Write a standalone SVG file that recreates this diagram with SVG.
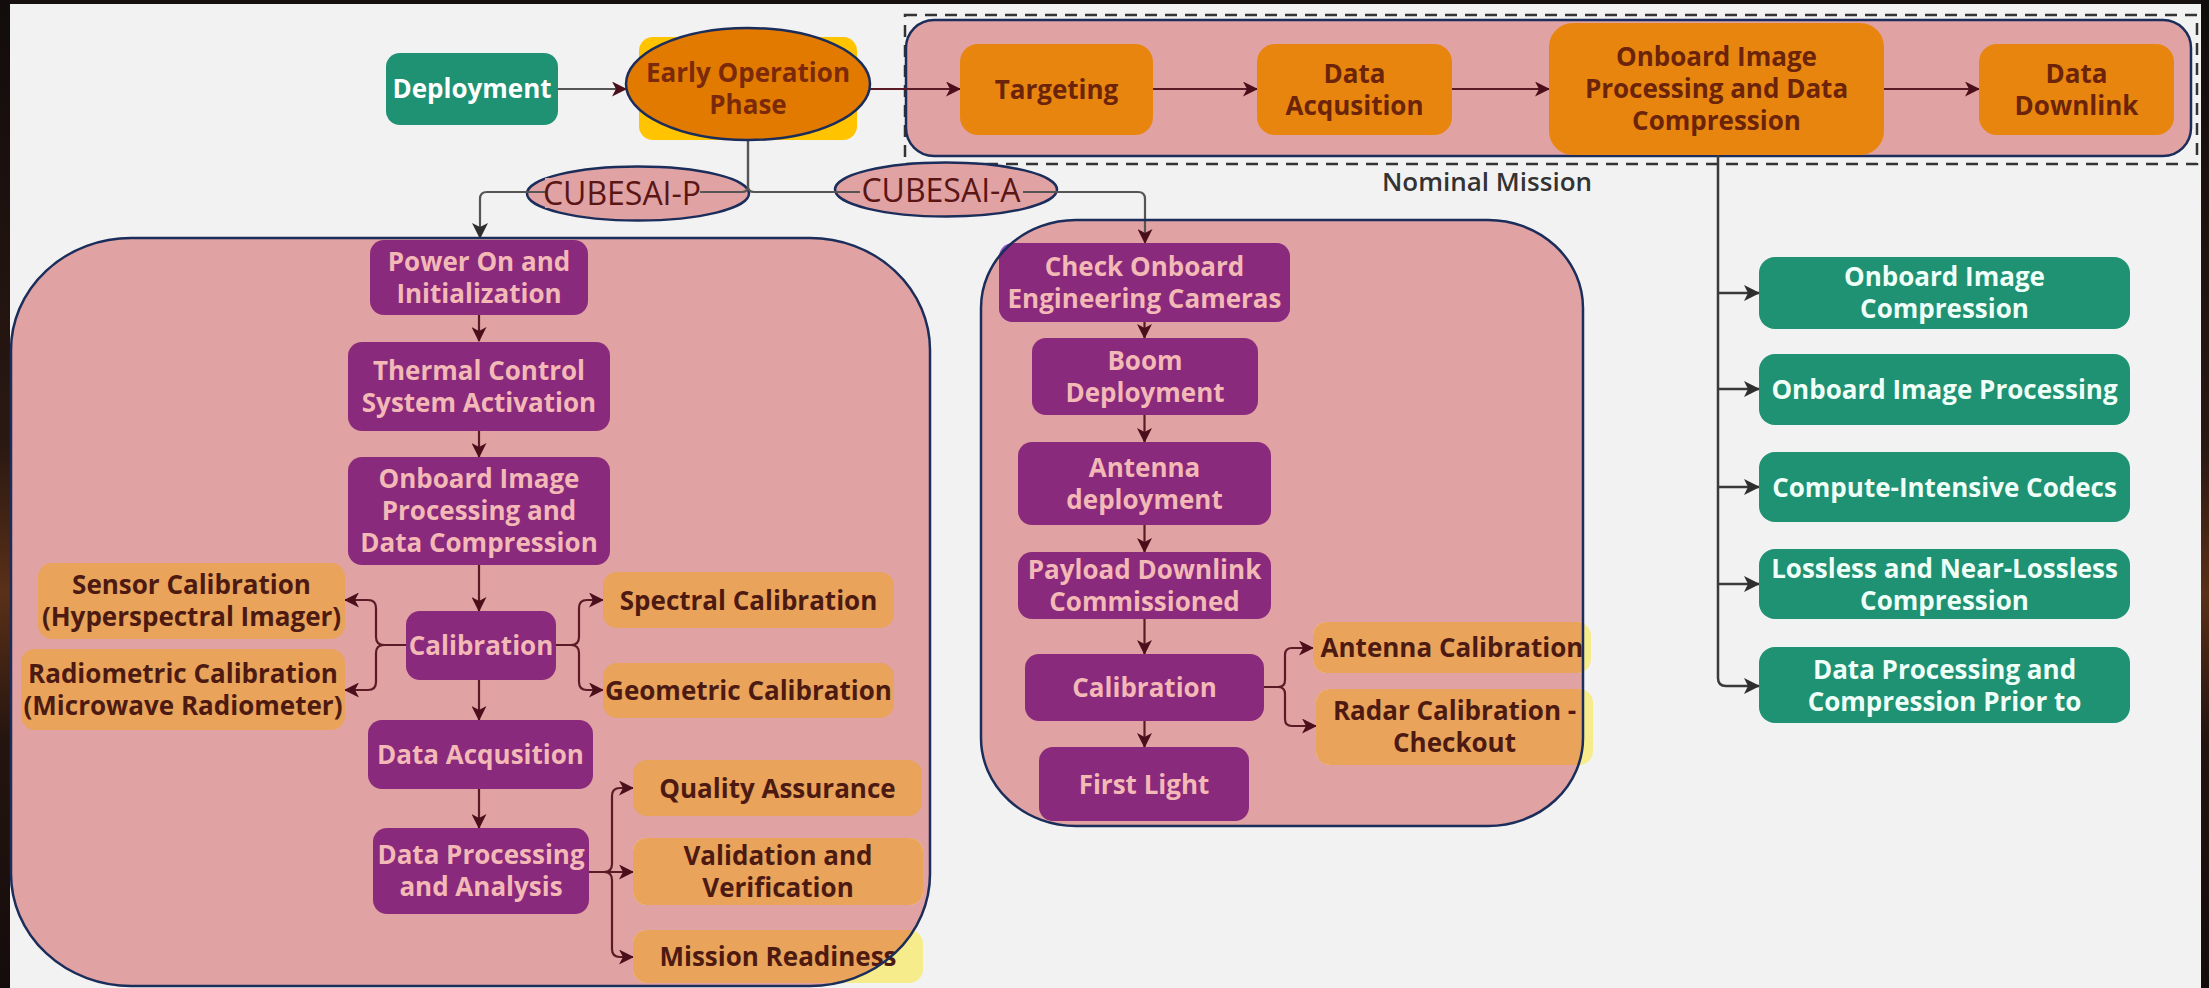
<svg xmlns="http://www.w3.org/2000/svg" width="2209" height="988" viewBox="0 0 2209 988">
<defs>
<style>
.tx{font-family:"Open Sans","Liberation Sans",sans-serif;text-anchor:middle;font-weight:700;font-size:26px}
.pu{fill:#8a2a7d}
.pt{fill:#f3b9b6}
.or{fill:#e9a35a}
.ot{fill:#4d1a12}
.ye{fill:#f6ec8c}
.no{fill:#e8850f}
.nt{fill:#6b2409}
.gr{fill:#1e9273}
.gt{fill:#f0fff8}
.ct{fill:#e1a2a3}
.cs{fill:none;stroke:#1b2d5a;stroke-width:2.5}
.cm{fill:none;stroke:#5a1a26;stroke-width:2.2}
.cg{fill:none;stroke:#555;stroke-width:2.2}
.cd{fill:none;stroke:#3a3a3a;stroke-width:2.5}
.lb{font-family:"Open Sans","Liberation Sans",sans-serif;text-anchor:middle;font-size:32px;font-weight:400;fill:#5a1515}
</style>
<marker id="am" markerUnits="userSpaceOnUse" markerWidth="15" markerHeight="15" refX="14" refY="7.5" orient="auto"><path d="M0,0 L15,7.5 L0,15 L4,7.5 Z" fill="#4a0f1a"/></marker>
<marker id="ad" markerUnits="userSpaceOnUse" markerWidth="16" markerHeight="16" refX="15" refY="8" orient="auto"><path d="M0,0 L16,8 L0,16 L4,8 Z" fill="#2e2e2e"/></marker>
<clipPath id="clipL"><rect x="11" y="238" width="919" height="748" rx="120" ry="112"/></clipPath>
<clipPath id="clipR"><rect x="981" y="220" width="602" height="606" rx="95" ry="88"/></clipPath>
<linearGradient id="edge" x1="0" y1="0" x2="0" y2="1">
<stop offset="0" stop-color="#120c0c"/><stop offset="0.45" stop-color="#2a1812"/><stop offset="0.6" stop-color="#5a3018"/><stop offset="0.75" stop-color="#24140f"/><stop offset="1" stop-color="#140c0c"/>
</linearGradient>
</defs>
<rect x="0" y="0" width="2209" height="988" fill="#f2f2f2"/>
<rect x="0" y="0" width="2209" height="4" fill="#15100f"/>
<rect x="0" y="0" width="10" height="988" fill="url(#edge)"/>
<rect x="2201" y="0" width="8" height="988" fill="url(#edge)"/>

<!-- containers -->
<g id="nominal-mission">
<rect x="905" y="15" width="1292" height="149" fill="none" stroke="#333" stroke-width="2.5" stroke-dasharray="12 8"/>
<rect x="906" y="20" width="1285" height="136" rx="28" class="ct" stroke="#1b2d5a" stroke-width="2.5"/>
<text x="1487" y="191" font-family="Open Sans, Liberation Sans, sans-serif" font-size="26" font-weight="600" fill="#333" text-anchor="middle">Nominal Mission</text>
</g>
<g id="cubesat-p-container"><rect x="11" y="238" width="919" height="748" rx="120" ry="112" class="ct"/></g>
<g id="cubesat-a-container"><rect x="981" y="220" width="602" height="606" rx="95" ry="88" class="ct"/></g>

<!-- label ellipses -->
<g id="label-p-shape"><ellipse cx="638" cy="193.5" rx="111" ry="27" class="ct" stroke="#1b2d5a" stroke-width="2.5"/></g>
<g id="label-a-shape"><ellipse cx="946" cy="189.5" rx="111" ry="27" class="ct" stroke="#1b2d5a" stroke-width="2.5"/></g>

<!-- connectors -->
<g id="connectors">
<path class="cg" d="M558,89 H626" marker-end="url(#am)"/>
<path class="cm" d="M870,89 H960" marker-end="url(#am)"/>
<path class="cm" d="M1153,89 H1257" marker-end="url(#am)"/>
<path class="cm" d="M1452,89 H1549" marker-end="url(#am)"/>
<path class="cm" d="M1884,89 H1979" marker-end="url(#am)"/>
<path class="cg" d="M748,140 V186 Q748,192 742,192 H487 Q480,192 480,199 V238" marker-end="url(#ad)"/>
<path class="cg" d="M748,140 V186 Q748,192 754,192 H1138 Q1145,192 1145,199 V243" marker-end="url(#am)"/>
<path class="cd" d="M1718,155 V678 Q1718,686 1726,686 H1759" marker-end="url(#ad)"/>
<path class="cd" d="M1718,293 H1759" marker-end="url(#ad)"/>
<path class="cd" d="M1718,389 H1759" marker-end="url(#ad)"/>
<path class="cd" d="M1718,487 H1759" marker-end="url(#ad)"/>
<path class="cd" d="M1718,584 H1759" marker-end="url(#ad)"/>
<path class="cm" d="M479,315 V341" marker-end="url(#am)"/>
<path class="cm" d="M479,431 V457" marker-end="url(#am)"/>
<path class="cm" d="M479,565 V611" marker-end="url(#am)"/>
<path class="cm" d="M479,680 V720" marker-end="url(#am)"/>
<path class="cm" d="M479,789 V828" marker-end="url(#am)"/>
<path class="cm" d="M406,645 H384 Q376,645 376,637 V608 Q376,600 368,600 H345" marker-end="url(#am)"/>
<path class="cm" d="M384,645 Q376,645 376,653 V682 Q376,690 368,690 H345" marker-end="url(#am)"/>
<path class="cm" d="M556,645 H571 Q579,645 579,637 V608 Q579,600 587,600 H603" marker-end="url(#am)"/>
<path class="cm" d="M571,645 Q579,645 579,653 V682 Q579,690 587,690 H603" marker-end="url(#am)"/>
<path class="cm" d="M589,872 H604 Q612,872 612,864 V796 Q612,788 620,788 H633" marker-end="url(#am)"/>
<path class="cm" d="M589,872 H633" marker-end="url(#am)"/>
<path class="cm" d="M604,872 Q612,872 612,880 V949 Q612,957 620,957 H633" marker-end="url(#am)"/>
<path class="cm" d="M1144.5,322 V338" marker-end="url(#am)"/>
<path class="cm" d="M1144.5,415 V442" marker-end="url(#am)"/>
<path class="cm" d="M1144.5,525 V552" marker-end="url(#am)"/>
<path class="cm" d="M1144.5,619 V654" marker-end="url(#am)"/>
<path class="cm" d="M1144.5,721 V747" marker-end="url(#am)"/>
<path class="cm" d="M1264,687 H1278 Q1285,687 1285,680 V655 Q1285,648 1292,648 H1313" marker-end="url(#am)"/>
<path class="cm" d="M1278,687 Q1285,687 1285,694 V719 Q1285,726 1292,726 H1316" marker-end="url(#am)"/>
</g>

<!-- labels text -->
<g id="label-p"><rect x="545" y="178" width="155" height="30" class="ct"/><text class="lb" x="622" y="205">CUBESAI-P</text></g>
<g id="label-a"><rect x="860" y="174" width="163" height="30" class="ct"/><text class="lb" x="941" y="202">CUBESAI-A</text></g>

<!-- top row nodes -->
<g id="deployment"><rect x="386" y="53" width="172" height="72" rx="14" class="gr"/><text class="tx" x="472" y="98" fill="#ffffff">Deployment</text></g>
<g id="early-operation"><rect x="639" y="37" width="218" height="103" rx="14" fill="#ffc300"/><ellipse cx="748" cy="84" rx="122" ry="56" fill="#e27a00" stroke="#1b2d5a" stroke-width="2.5"/><text class="tx" fill="#7a2a0a"><tspan x="748" y="82">Early Operation</tspan><tspan x="748" y="114">Phase</tspan></text></g>
<g id="targeting"><rect x="960" y="44" width="193" height="91" rx="18" class="no"/><text class="tx nt" x="1056.5" y="99">Targeting</text></g>
<g id="data-acq-top"><rect x="1257" y="44" width="195" height="91" rx="18" class="no"/><text class="tx nt"><tspan x="1354.5" y="83">Data</tspan><tspan x="1354.5" y="115">Acqusition</tspan></text></g>
<g id="onboard-top"><rect x="1549" y="23" width="335" height="132" rx="24" class="no"/><text class="tx nt"><tspan x="1716.5" y="66">Onboard Image</tspan><tspan x="1716.5" y="98">Processing and Data</tspan><tspan x="1716.5" y="130">Compression</tspan></text></g>
<g id="data-downlink"><rect x="1979" y="44" width="195" height="91" rx="18" class="no"/><text class="tx nt"><tspan x="2076.5" y="83">Data</tspan><tspan x="2076.5" y="115">Downlink</tspan></text></g>

<!-- CUBESAT-P nodes -->
<g id="power-on"><rect x="370" y="240" width="218" height="75" rx="14" class="pu"/><text class="tx pt"><tspan x="479" y="271">Power On and</tspan><tspan x="479" y="303">Initialization</tspan></text></g>
<g id="thermal"><rect x="348" y="342" width="262" height="89" rx="14" class="pu"/><text class="tx pt"><tspan x="479" y="380">Thermal Control</tspan><tspan x="479" y="412">System Activation</tspan></text></g>
<g id="onboard-p"><rect x="348" y="457" width="262" height="108" rx="14" class="pu"/><text class="tx pt"><tspan x="479" y="488">Onboard Image</tspan><tspan x="479" y="520">Processing and</tspan><tspan x="479" y="552">Data Compression</tspan></text></g>
<g id="calibration-p"><rect x="406" y="611" width="150" height="69" rx="14" class="pu"/><text class="tx pt" x="481" y="655">Calibration</text></g>
<g id="data-acq-p"><rect x="368" y="720" width="225" height="69" rx="14" class="pu"/><text class="tx pt" x="480.5" y="764">Data Acqusition</text></g>
<g id="data-processing"><rect x="373" y="828" width="216" height="86" rx="14" class="pu"/><text class="tx pt"><tspan x="481" y="864">Data Processing</tspan><tspan x="481" y="896">and Analysis</tspan></text></g>
<g id="sensor-cal"><rect x="38" y="563" width="307" height="76" rx="14" class="or"/><text class="tx ot"><tspan x="191.5" y="594">Sensor Calibration</tspan><tspan x="191.5" y="626">(Hyperspectral Imager)</tspan></text></g>
<g id="radiometric-cal"><rect x="21" y="649" width="324" height="81" rx="14" class="or"/><text class="tx ot"><tspan x="183" y="683">Radiometric Calibration</tspan><tspan x="183" y="715">(Microwave Radiometer)</tspan></text></g>
<g id="spectral-cal"><rect x="603" y="572" width="291" height="56" rx="14" class="or"/><text class="tx ot" x="748.5" y="609.5">Spectral Calibration</text></g>
<g id="geometric-cal"><rect x="603" y="663" width="291" height="55" rx="14" class="or"/><text class="tx ot" x="748.5" y="700">Geometric Calibration</text></g>
<g id="quality"><rect x="633" y="760" width="289" height="56" rx="14" class="or"/><text class="tx ot" x="777.5" y="797.5">Quality Assurance</text></g>
<g id="validation"><rect x="633" y="838" width="290" height="67" rx="14" class="ye"/><rect x="633" y="838" width="290" height="67" rx="14" class="or" clip-path="url(#clipL)"/><text class="tx ot"><tspan x="778" y="865">Validation and</tspan><tspan x="778" y="897">Verification</tspan></text></g>
<g id="mission-readiness"><rect x="633" y="930" width="290" height="53" rx="14" class="ye"/><rect x="633" y="930" width="290" height="53" rx="14" class="or" clip-path="url(#clipL)"/><text class="tx ot" x="778" y="966">Mission Readiness</text></g>
<g id="cubesat-p-outline"><rect x="11" y="238" width="919" height="748" rx="120" ry="112" class="cs"/></g>

<!-- CUBESAT-A nodes -->
<g id="check-cameras"><rect x="999" y="243" width="291" height="79" rx="14" fill="#8e4fc6"/><rect x="999" y="243" width="291" height="79" rx="14" class="pu" clip-path="url(#clipR)"/><text class="tx pt"><tspan x="1144.5" y="276">Check Onboard</tspan><tspan x="1144.5" y="308">Engineering Cameras</tspan></text></g>
<g id="boom"><rect x="1032" y="338" width="226" height="77" rx="14" class="pu"/><text class="tx pt"><tspan x="1145" y="370">Boom</tspan><tspan x="1145" y="402">Deployment</tspan></text></g>
<g id="antenna-deploy"><rect x="1018" y="442" width="253" height="83" rx="14" class="pu"/><text class="tx pt"><tspan x="1144.5" y="477">Antenna</tspan><tspan x="1144.5" y="509">deployment</tspan></text></g>
<g id="payload"><rect x="1018" y="552" width="253" height="67" rx="14" class="pu"/><text class="tx pt"><tspan x="1144.5" y="579">Payload Downlink</tspan><tspan x="1144.5" y="611">Commissioned</tspan></text></g>
<g id="calibration-a"><rect x="1025" y="654" width="239" height="67" rx="14" class="pu"/><text class="tx pt" x="1144.5" y="697">Calibration</text></g>
<g id="first-light"><rect x="1039" y="747" width="210" height="74" rx="14" class="pu"/><text class="tx pt" x="1144" y="793.5">First Light</text></g>
<g id="antenna-cal"><rect x="1313" y="622" width="278" height="51" rx="14" class="ye"/><rect x="1313" y="622" width="278" height="51" rx="14" class="or" clip-path="url(#clipR)"/><text class="tx ot" x="1452" y="657">Antenna Calibration</text></g>
<g id="radar-cal"><rect x="1316" y="689" width="277" height="76" rx="14" class="ye"/><rect x="1316" y="689" width="277" height="76" rx="14" class="or" clip-path="url(#clipR)"/><text class="tx ot"><tspan x="1454.5" y="720">Radar Calibration -</tspan><tspan x="1454.5" y="752">Checkout</tspan></text></g>
<g id="cubesat-a-outline"><rect x="981" y="220" width="602" height="606" rx="95" ry="88" class="cs"/></g>

<!-- right green nodes -->
<g id="g-compression"><rect x="1759" y="257" width="371" height="72" rx="16" class="gr"/><text class="tx gt"><tspan x="1944.5" y="286">Onboard Image</tspan><tspan x="1944.5" y="318">Compression</tspan></text></g>
<g id="g-processing"><rect x="1759" y="354" width="371" height="71" rx="16" class="gr"/><text class="tx gt" x="1944.5" y="399">Onboard Image Processing</text></g>
<g id="g-codecs"><rect x="1759" y="452" width="371" height="70" rx="16" class="gr"/><text class="tx gt" x="1944.5" y="496.5">Compute-Intensive Codecs</text></g>
<g id="g-lossless"><rect x="1759" y="549" width="371" height="70" rx="16" class="gr"/><text class="tx gt"><tspan x="1944.5" y="577.5">Lossless and Near-Lossless</tspan><tspan x="1944.5" y="609.5">Compression</tspan></text></g>
<g id="g-prior"><rect x="1759" y="647" width="371" height="76" rx="16" class="gr"/><text class="tx gt"><tspan x="1944.5" y="678.5">Data Processing and</tspan><tspan x="1944.5" y="710.5">Compression Prior to</tspan></text></g>
</svg>
